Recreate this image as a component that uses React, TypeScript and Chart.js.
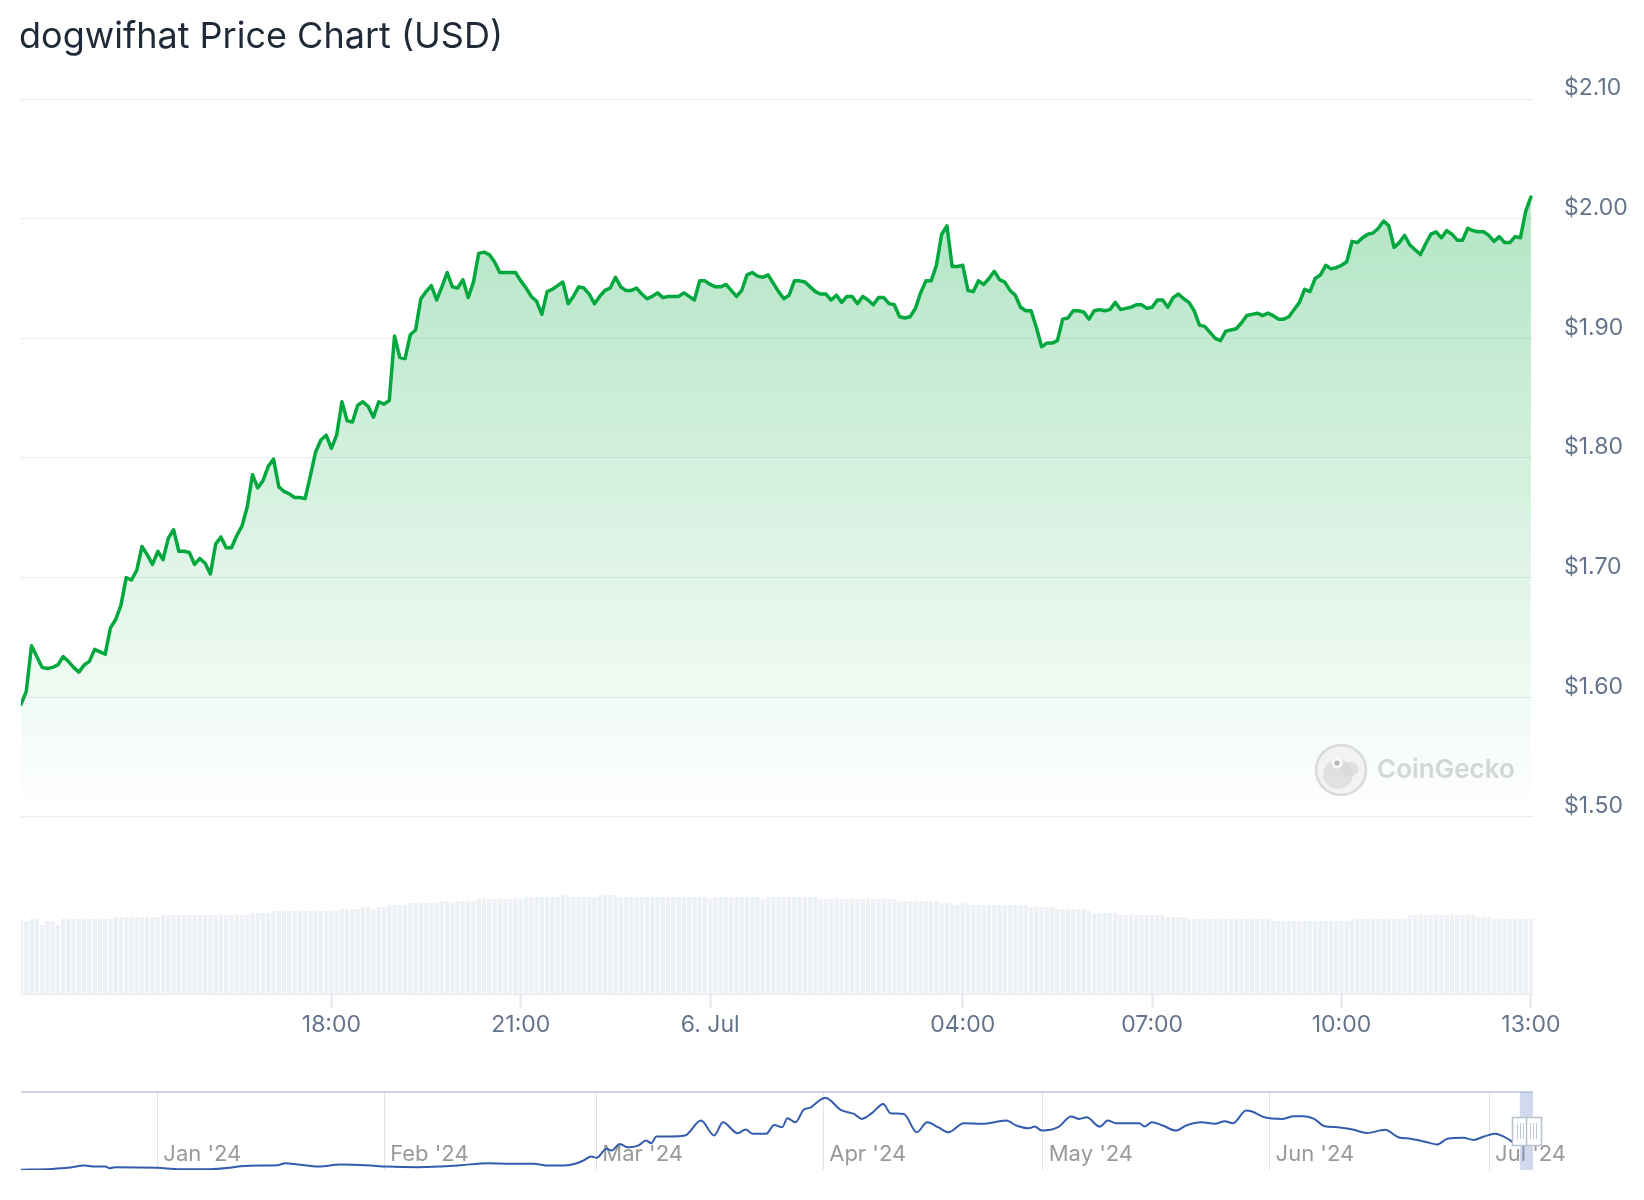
import React, { useEffect, useRef } from 'react';
import { Chart, registerables } from 'chart.js';

Chart.register(...registerables);
Chart.defaults.font.family = 'Inter';

const TITLE = 'dogwifhat Price Chart (USD)';

// 5-minute samples, minutes after 5 Jul 13:00 (first sample 13:05)
const FIRST_MINUTE = 5;
const STEP_MINUTES = 5;

// price in USD, one value per 5 minutes
const prices = [
  1.594, 1.605, 1.643, 1.634, 1.625, 1.624, 1.625, 1.627, 1.634, 1.630, 1.625, 1.621,
  1.627, 1.630, 1.640, 1.638, 1.636, 1.658, 1.665, 1.677, 1.700, 1.698, 1.706, 1.726,
  1.719, 1.711, 1.722, 1.715, 1.733, 1.740, 1.722, 1.722, 1.721, 1.711, 1.716, 1.712,
  1.703, 1.728, 1.734, 1.725, 1.725, 1.735, 1.743, 1.759, 1.786, 1.775, 1.781, 1.793,
  1.799, 1.776, 1.772, 1.770, 1.767, 1.767, 1.766, 1.785, 1.805, 1.815, 1.819, 1.808,
  1.819, 1.847, 1.831, 1.830, 1.844, 1.847, 1.843, 1.834, 1.847, 1.845, 1.848, 1.902,
  1.884, 1.883, 1.903, 1.907, 1.933, 1.939, 1.944, 1.932, 1.943, 1.955, 1.943, 1.942,
  1.949, 1.934, 1.947, 1.971, 1.972, 1.970, 1.964, 1.955, 1.955, 1.955, 1.955, 1.948,
  1.942, 1.935, 1.931, 1.920, 1.939, 1.941, 1.944, 1.947, 1.929, 1.935, 1.943, 1.942,
  1.937, 1.929, 1.935, 1.940, 1.942, 1.951, 1.943, 1.940, 1.940, 1.942, 1.937, 1.933,
  1.935, 1.938, 1.934, 1.935, 1.935, 1.935, 1.938, 1.935, 1.932, 1.948, 1.948, 1.945,
  1.943, 1.943, 1.945, 1.940, 1.935, 1.940, 1.953, 1.955, 1.952, 1.951, 1.953, 1.946,
  1.939, 1.933, 1.936, 1.948, 1.948, 1.947, 1.943, 1.939, 1.937, 1.937, 1.932, 1.936,
  1.930, 1.935, 1.935, 1.929, 1.935, 1.932, 1.928, 1.934, 1.934, 1.929, 1.928, 1.918,
  1.917, 1.918, 1.925, 1.938, 1.948, 1.948, 1.961, 1.987, 1.994, 1.960, 1.960, 1.961,
  1.940, 1.939, 1.948, 1.945, 1.950, 1.956, 1.949, 1.947, 1.940, 1.936, 1.926, 1.923,
  1.923, 1.909, 1.893, 1.896, 1.896, 1.898, 1.916, 1.917, 1.923, 1.923, 1.922, 1.916,
  1.923, 1.924, 1.923, 1.924, 1.930, 1.924, 1.925, 1.926, 1.928, 1.928, 1.925, 1.926,
  1.932, 1.932, 1.926, 1.934, 1.937, 1.933, 1.930, 1.923, 1.911, 1.910, 1.905, 1.900,
  1.898, 1.906, 1.907, 1.908, 1.913, 1.919, 1.920, 1.921, 1.919, 1.921, 1.919, 1.916,
  1.916, 1.918, 1.924, 1.930, 1.941, 1.939, 1.950, 1.953, 1.961, 1.958, 1.959, 1.961,
  1.964, 1.981, 1.980, 1.984, 1.987, 1.988, 1.992, 1.998, 1.994, 1.976, 1.980, 1.986,
  1.978, 1.974, 1.970, 1.979, 1.987, 1.989, 1.984, 1.990, 1.987, 1.982, 1.982, 1.992,
  1.990, 1.989, 1.989, 1.986, 1.981, 1.985, 1.980, 1.980, 1.985, 1.984, 2.006, 2.018,
];

// 24h volume in millions of USD, one value per 5 minutes
const volumes = [
  314, 314, 323, 323, 297, 314, 314, 297, 323, 323, 323, 323, 323, 323, 323, 323, 323, 323, 331, 331, 331, 331, 331, 331,
  331, 331, 331, 340, 340, 340, 340, 340, 340, 340, 340, 340, 340, 340, 340, 340, 340, 340, 340, 340, 348, 348, 348, 348,
  357, 357, 357, 357, 357, 357, 357, 357, 357, 357, 357, 357, 357, 366, 366, 366, 366, 374, 374, 366, 374, 374, 383, 383,
  383, 383, 391, 391, 391, 391, 391, 391, 400, 400, 391, 400, 400, 400, 400, 409, 409, 409, 409, 409, 409, 409, 409, 409,
  417, 417, 417, 417, 417, 417, 417, 426, 417, 417, 417, 417, 417, 417, 426, 426, 426, 426, 417, 417, 417, 417, 417, 417,
  417, 417, 417, 417, 417, 417, 417, 417, 417, 417, 417, 409, 417, 417, 417, 417, 417, 417, 417, 417, 417, 409, 417, 417,
  417, 417, 417, 417, 417, 417, 417, 417, 409, 409, 409, 409, 409, 409, 409, 409, 409, 409, 409, 409, 409, 409, 409, 400,
  400, 400, 400, 400, 400, 400, 400, 391, 391, 391, 383, 391, 383, 383, 383, 383, 383, 383, 383, 383, 383, 383, 383, 383,
  374, 374, 374, 374, 374, 366, 366, 366, 366, 366, 366, 357, 348, 348, 348, 348, 348, 340, 340, 340, 340, 340, 340, 340,
  340, 340, 331, 331, 331, 331, 323, 323, 323, 323, 323, 323, 323, 323, 323, 323, 323, 323, 323, 323, 323, 323, 314, 314,
  314, 314, 314, 314, 314, 314, 314, 314, 314, 314, 314, 314, 314, 323, 323, 323, 323, 323, 323, 323, 323, 323, 323, 323,
  340, 340, 340, 340, 340, 340, 340, 340, 340, 340, 340, 340, 340, 331, 331, 331, 323, 323, 323, 323, 323, 323, 323, 323,
];

const priceTicks = [1.5, 1.6, 1.7, 1.8, 1.9, 2.0, 2.1];
const timeTickMinutes = [300, 480, 660, 900, 1080, 1260, 1440];
const timeTickLabels = ['18:00', '21:00', '6. Jul', '04:00', '07:00', '10:00', '13:00'];

// navigator: days after 1 Jan 2024, price USD
const navDays = [
  -18.8, -14.4, -12.2, -10.0, -8.6, -7.1, -6.5, -5.8, 0, 3.1,
  7.1, 9.9, 11.4, 14.2, 16.4, 17.5, 19.2, 22.1, 25, 28.5,
  31.4, 35.6, 38.5, 41.4, 45.3, 48.6, 51.4, 53.5, 55.7, 57.1,
  58.2, 59.3, 60, 61.4, 62.1, 63.2, 64.3, 65.7, 66.8, 67.5,
  68.2, 70, 72.1, 74.3, 76.1, 77.3, 79.3, 80.4, 81.4, 83.2,
  84.3, 85.4, 86.1, 87.2, 88.3, 89.3, 90.6, 91.3, 93.4, 95.2,
  96.3, 97.7, 99.2, 100.2, 102, 103.8, 105.2, 106.7, 108.1, 110.2,
  112.7, 116, 117.4, 119.1, 119.9, 120.9, 123.1, 124.9, 126, 127,
  128.8, 129.9, 131, 134.2, 134.9, 135.9, 137.4, 139.2, 140.6, 142.7,
  144.5, 145.9, 147, 148.8, 149.5, 151.3, 153.8, 155.3, 156.7, 158.1,
  159.5, 161.3, 163.5, 165.3, 167.8, 169.6, 171.3, 173.5, 174.9, 176.3,
  178.5, 179.9, 181.3, 182.8, 184.8, 185.6, 186.5,
];
const navPrices = [
  0.15, 0.21, 0.28, 0.43, 0.36, 0.36, 0.25, 0.32, 0.28, 0.19,
  0.19, 0.28, 0.38, 0.43, 0.45, 0.58, 0.49, 0.36, 0.49, 0.45,
  0.36, 0.32, 0.36, 0.45, 0.58, 0.54, 0.54, 0.43, 0.43, 0.54,
  0.75, 1.01, 0.93, 1.51, 1.40, 1.83, 1.61, 1.72, 2.05, 1.87,
  2.31, 2.31, 2.37, 3.34, 2.37, 3.23, 2.52, 2.76, 2.48, 2.48,
  3.06, 2.91, 3.49, 3.23, 4.03, 4.2, 4.68, 4.81, 4.03, 3.77,
  3.45, 3.84, 4.42, 3.81, 3.77, 2.58, 3.23, 2.91, 2.58, 3.17,
  3.13, 3.34, 3.02, 2.84, 2.95, 2.69, 2.91, 3.6, 3.45, 3.55,
  2.95, 3.34, 3.17, 3.17, 2.95, 3.23, 3.02, 2.69, 3.02, 3.23,
  3.13, 3.3, 3.17, 3.99, 3.94, 3.55, 3.45, 3.62, 3.62, 3.45,
  2.97, 2.91, 2.74, 2.54, 2.74, 2.26, 2.16, 1.94, 1.79, 2.16,
  2.22, 2.09, 2.31, 2.48, 2.09, 1.83, 1.95,
];
const monthTickDays = [0, 31, 60, 91, 121, 152, 182];
const monthTickLabels = ["Jan '24", "Feb '24", "Mar '24", "Apr '24", "May '24", "Jun '24", "Jul '24"];
const navSelection = [186.2, 188.0];

const GREEN = '#00a83e';

const titlePlugin = {
  id: 'titleText',
  afterDraw(chart: any) {
    const c = chart.ctx;
    c.save();
    c.font = '36px Inter';
    c.fillStyle = '#1f2937';
    c.textAlign = 'left';
    c.textBaseline = 'alphabetic';
    c.fillText(TITLE, 19, 48);
    c.restore();
  },
};

const watermarkPlugin = {
  id: 'watermark',
  afterDatasetsDraw(chart: any) {
    const c = chart.ctx;
    const area = chart.chartArea;
    const cx = area.right - 192;
    const cy = area.top + 671;
    c.save();
    c.beginPath();
    c.arc(cx, cy, 25, 0, Math.PI * 2);
    c.fillStyle = 'rgba(235,235,235,0.55)';
    c.fill();
    c.lineWidth = 2.5;
    c.strokeStyle = 'rgba(205,205,205,0.7)';
    c.stroke();
    c.fillStyle = 'rgba(212,212,212,0.6)';
    c.beginPath();
    c.ellipse(cx - 3, cy + 4, 15, 15, 0, 0, Math.PI * 2);
    c.fill();
    c.beginPath();
    c.ellipse(cx + 9, cy - 1, 9, 7, 0, 0, Math.PI * 2);
    c.fill();
    c.beginPath();
    c.arc(cx - 4, cy - 7, 5.5, 0, Math.PI * 2);
    c.fillStyle = 'rgba(250,250,250,0.95)';
    c.fill();
    c.beginPath();
    c.arc(cx - 4, cy - 7, 2.6, 0, Math.PI * 2);
    c.fillStyle = 'rgba(170,170,170,0.85)';
    c.fill();
    c.font = '600 26px Inter';
    c.fillStyle = 'rgba(170,175,180,0.5)';
    c.textAlign = 'left';
    c.textBaseline = 'middle';
    c.fillText('CoinGecko', cx + 36, cy);
    c.restore();
  },
};

const navMaskPlugin = {
  id: 'navMask',
  afterDatasetsDraw(chart: any) {
    const c = chart.ctx;
    const area = chart.chartArea;
    const xs = chart.scales.x;
    const x0 = xs.getPixelForValue(navSelection[0]);
    const x1 = xs.getPixelForValue(navSelection[1]);
    c.save();
    c.fillStyle = 'rgba(102,133,194,0.3)';
    c.fillRect(x0, area.top, x1 - x0, area.bottom - area.top);
    const midY = (area.top + area.bottom) / 2;
    [x0, x1].forEach((xp) => {
      c.fillStyle = '#ffffff';
      c.strokeStyle = '#b9c2cf';
      c.lineWidth = 1.5;
      c.beginPath();
      c.rect(Math.round(xp - 7.5) + 0.5, Math.round(midY - 14) + 0.5, 15, 28);
      c.fill();
      c.stroke();
      c.strokeStyle = '#c4cad4';
      c.lineWidth = 1;
      [-3, 0, 3].forEach((d) => {
        c.beginPath();
        c.moveTo(Math.round(xp + d) + 0.5, midY - 8);
        c.lineTo(Math.round(xp + d) + 0.5, midY + 8);
        c.stroke();
      });
    });
    c.restore();
  },
};

export default function App() {
  const mainRef = useRef<HTMLCanvasElement>(null);
  const navRef = useRef<HTMLCanvasElement>(null);

  useEffect(() => {
    const priceData = prices.map((p, i) => ({ x: FIRST_MINUTE + i * STEP_MINUTES, y: p }));
    const volumeData = volumes.map((v, i) => ({ x: FIRST_MINUTE + i * STEP_MINUTES, y: v }));
    const maxPrice = Math.max(...prices);

    const main = new Chart(mainRef.current as HTMLCanvasElement, {
      type: 'line',
      data: {
        datasets: [
          {
            type: 'line',
            label: 'Price',
            data: priceData,
            yAxisID: 'y',
            borderColor: GREEN,
            borderWidth: 3.5,
            pointRadius: 0,
            tension: 0,
            borderJoinStyle: 'round',
            borderCapStyle: 'round',
            fill: { value: 1.5 },
            order: 0,
            backgroundColor: (ctx: any) => {
              const chart = ctx.chart;
              if (!chart.chartArea) return 'rgba(0,168,62,0.15)';
              const ys = chart.scales.y;
              const top = ys.getPixelForValue(maxPrice);
              const bottom = ys.getPixelForValue(1.5);
              const g = chart.ctx.createLinearGradient(0, top, 0, bottom);
              g.addColorStop(0, 'rgba(0,168,62,0.3)');
              g.addColorStop(1, 'rgba(0,168,62,0)');
              return g;
            },
          } as any,
          {
            type: 'bar',
            label: 'Volume',
            data: volumeData,
            yAxisID: 'yv',
            backgroundColor: '#edf0f4',
            categoryPercentage: 1,
            barPercentage: 0.8,
            order: 1,
          } as any,
        ],
      },
      options: {
        responsive: false,
        animation: false,
        devicePixelRatio: 1,
        layout: { padding: { left: 21, top: 99, right: 0, bottom: 0 } },
        plugins: { legend: { display: false }, tooltip: { enabled: false }, title: { display: false } },
        scales: {
          x: {
            type: 'linear',
            min: 5,
            max: 1442,
            offset: false,
            afterBuildTicks: (s: any) => {
              s.ticks = timeTickMinutes.map((v) => ({ value: v }));
            },
            afterFit: (s: any) => {
              s.height = 76;
            },
            ticks: {
              autoSkip: false,
              maxRotation: 0,
              padding: 3,
              color: '#64748b',
              font: { size: 23, family: 'Inter' },
              callback: (_v: any, i: number) => timeTickLabels[i],
            },
            grid: {
              drawOnChartArea: false,
              drawTicks: true,
              tickLength: 14,
              color: '#e3e7ec',
              tickWidth: 2,
              offset: false,
            },
            border: { display: true, color: '#e6e9ee', width: 1 },
          },
          y: {
            type: 'linear',
            position: 'right',
            min: 1.352,
            max: 2.1,
            afterBuildTicks: (s: any) => {
              s.ticks = priceTicks.map((v) => ({ value: v }));
            },
            afterFit: (s: any) => {
              s.width = 111;
            },
            ticks: {
              padding: 31,
              labelOffset: -10.5,
              color: '#64748b',
              font: { size: 23, family: 'Inter' },
              callback: (v: any) => '$' + Number(v).toFixed(2),
            },
            grid: { color: '#e9edf2', lineWidth: 1, drawTicks: false },
            border: { display: false },
          },
          yv: { type: 'linear', display: false, min: 0, max: 3850 },
        },
      } as any,
      plugins: [titlePlugin, watermarkPlugin],
    });

    const nav = new Chart(navRef.current as HTMLCanvasElement, {
      type: 'line',
      data: {
        datasets: [
          {
            label: 'Navigator',
            data: navDays.map((d, i) => ({ x: d, y: navPrices[i] })),
            borderColor: '#335cad',
            borderWidth: 2,
            pointRadius: 0,
            cubicInterpolationMode: 'monotone',
            fill: false,
          } as any,
        ],
      },
      options: {
        responsive: false,
        animation: false,
        devicePixelRatio: 1,
        layout: { padding: { left: 21, right: 111, top: 22, bottom: 0 } },
        plugins: { legend: { display: false }, tooltip: { enabled: false } },
        scales: {
          x: {
            type: 'linear',
            min: -18.63,
            max: 188.0,
            afterBuildTicks: (s: any) => {
              s.ticks = monthTickDays.map((v) => ({ value: v }));
            },
            afterFit: (s: any) => {
              s.height = 30;
            },
            ticks: {
              align: 'start',
              mirror: true,
              labelOffset: 6,
              padding: 2,
              autoSkip: false,
              maxRotation: 0,
              color: '#999999',
              font: { size: 22, family: 'Inter' },
              callback: (_v: any, i: number) => monthTickLabels[i],
            },
            grid: { drawTicks: false, color: '#e3e3e3', lineWidth: 1 },
            border: { display: false },
          },
          y: {
            type: 'linear',
            min: 0.14,
            max: 5.19,
            afterBuildTicks: (s: any) => {
              s.ticks = [{ value: 5.19 }];
            },
            afterFit: (s: any) => {
              s.width = 0;
            },
            ticks: { display: false },
            grid: { drawTicks: false, color: '#cdd6e2', lineWidth: 2 },
            border: { display: false },
          },
        },
      } as any,
      plugins: [navMaskPlugin],
    });

    return () => {
      main.destroy();
      nav.destroy();
    };
  }, []);

  return (
    <div style={{ position: 'absolute', left: 0, top: 0, width: 1644, height: 1200, background: '#ffffff', overflow: 'hidden' }}>
      <canvas ref={mainRef} width={1644} height={1070} style={{ position: 'absolute', left: 0, top: 0, width: 1644, height: 1070 }} />
      <canvas ref={navRef} width={1644} height={130} style={{ position: 'absolute', left: 0, top: 1070, width: 1644, height: 130 }} />
    </div>
  );
}
